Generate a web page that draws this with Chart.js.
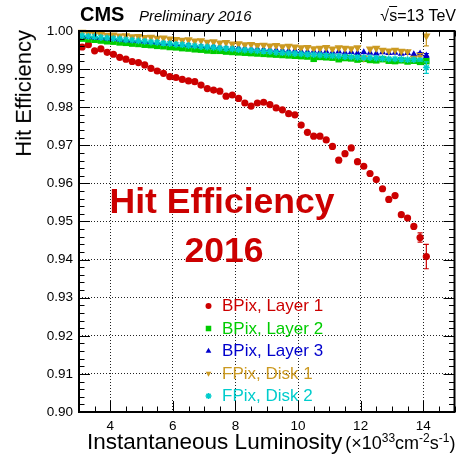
<!DOCTYPE html>
<html><head><meta charset="utf-8">
<script src="https://cdn.jsdelivr.net/npm/chart.js@4/dist/chart.umd.min.js"></script>
<style>
html,body{margin:0;padding:0;background:#fff;}
#wrap{position:relative;width:460px;height:457px;overflow:hidden;font-family:"Liberation Sans",Arial,Helvetica,sans-serif;color:#000;}
canvas{position:absolute;left:0;top:0;}
.t{position:absolute;white-space:nowrap;line-height:1;}
sup{font-size:12px;vertical-align:7px;line-height:0;}
</style></head><body>
<div id="wrap">
<canvas id="c" width="460" height="457"></canvas>
<div class="t" style="left:80px;top:4px;font-size:20px;font-weight:bold;">CMS</div>
<div class="t" style="left:139px;top:8px;font-size:15px;font-style:italic;">Preliminary 2016</div>
<div class="t" style="right:4px;top:8px;font-size:16px;">√<span style="text-decoration:overline">s</span>=13 TeV</div>
<div class="t" style="left:72px;width:300px;text-align:center;top:183.5px;font-size:35.5px;font-weight:bold;color:#cc0000;">Hit Efficiency</div>
<div class="t" style="left:74px;width:300px;text-align:center;top:233px;font-size:35.5px;font-weight:bold;color:#cc0000;">2016</div>
<div class="t" style="left:0;top:0;width:200px;text-align:right;font-size:22px;line-height:22px;transform-origin:0 0;transform:translate(12.9px,230px) rotate(-90deg);">Hit Efficiency</div>
<div class="t" style="left:87px;top:431px;font-size:22.5px;">Instantaneous Luminosity<span style="font-size:18px;margin-left:3px;">(×10<sup>33</sup>cm<sup>-2</sup>s<sup>-1</sup>)</span></div>
<div id="leg"></div>
</div>
<script>
const lumi = [3.1,3.3,3.5,3.7,3.9,4.1,4.3,4.5,4.7,4.9,
  5.1,5.3,5.5,5.7,5.9,6.1,6.3,6.5,6.7,6.9,
  7.1,7.3,7.5,7.7,7.9,8.1,8.3,8.5,8.7,8.9,
  9.1,9.3,9.5,9.7,9.9,10.1,10.3,10.5,10.7,10.9,
  11.1,11.3,11.5,11.7,11.9,12.1,12.3,12.5,12.7,12.9,
  13.1,13.3,13.5,13.7,13.9,14.1];

const bpixLayer1 = [0.9958,0.9964,0.9948,0.9953,0.9944,0.9939,0.9931,0.9926,0.9920,0.9917,
  0.9911,0.9902,0.9895,0.9889,0.9880,0.9878,0.9873,0.9869,0.9867,0.9858,
  0.9849,0.9845,0.9842,0.9829,0.9832,0.9823,0.9811,0.9803,0.9811,0.9813,
  0.9807,0.9798,0.9793,0.9783,0.9780,0.9753,0.9734,0.9724,0.9724,0.9714,
  0.9697,0.9661,0.9678,0.9693,0.9657,0.9645,0.9626,0.9610,0.9586,0.9558,
  0.9568,0.9518,0.9509,0.9487,0.9458,0.9408];

const bpixLayer2 = [0.9980,0.9978,0.9977,0.9975,0.9973,0.9972,0.9970,0.9969,0.9967,0.9966,
  0.9964,0.9963,0.9961,0.9960,0.9958,0.9957,0.9955,0.9954,0.9952,0.9951,
  0.9949,0.9948,0.9948,0.9946,0.9945,0.9944,0.9943,0.9942,0.9941,0.9940,
  0.9939,0.9938,0.9937,0.9936,0.9935,0.9934,0.9933,0.9927,0.9932,0.9931,
  0.9930,0.9926,0.9929,0.9928,0.9925,0.9927,0.9924,0.9923,0.9926,0.9922,
  0.9921,0.9923,0.9920,0.9922,0.9919,0.9921];

const bpixLayer3 = [0.9986,0.9984,0.9983,0.9982,0.9980,0.9979,0.9978,0.9976,0.9975,0.9974,
  0.9972,0.9971,0.9970,0.9968,0.9967,0.9966,0.9965,0.9963,0.9962,0.9961,
  0.9960,0.9959,0.9958,0.9957,0.9957,0.9956,0.9955,0.9953,0.9954,0.9952,
  0.9951,0.9950,0.9950,0.9948,0.9949,0.9947,0.9946,0.9947,0.9945,0.9946,
  0.9944,0.9946,0.9943,0.9945,0.9942,0.9944,0.9943,0.9941,0.9944,0.9942,
  0.9943,0.9940,0.9942,0.9939,0.9941,0.9936];

const fpixDisk1 = [0.9997,0.9994,0.9992,0.9991,0.9989,0.9990,0.9987,0.9988,0.9985,0.9986,
  0.9983,0.9984,0.9981,0.9982,0.9979,0.9978,0.9976,0.9977,0.9974,0.9975,
  0.9971,0.9972,0.9969,0.9970,0.9966,0.9967,0.9964,0.9965,0.9962,0.9963,
  0.9961,0.9962,0.9959,0.9960,0.9958,0.9956,0.9957,0.9954,0.9955,0.9957,
  0.9953,0.9956,0.9955,0.9954,0.9956,0.9929,0.9953,0.9955,0.9950,0.9948,
  0.9950,0.9947,0.9946,0.9929,0.9937,0.9987];

const fpixDisk2 = [0.9988,0.9986,0.9985,0.9983,0.9982,0.9980,0.9979,0.9977,0.9976,0.9974,
  0.9973,0.9971,0.9970,0.9968,0.9967,0.9965,0.9964,0.9962,0.9961,0.9959,
  0.9958,0.9957,0.9955,0.9954,0.9953,0.9951,0.9950,0.9949,0.9948,0.9947,
  0.9946,0.9944,0.9943,0.9942,0.9941,0.9940,0.9939,0.9938,0.9937,0.9936,
  0.9935,0.9934,0.9933,0.9932,0.9931,0.9930,0.9930,0.9929,0.9928,0.9927,
  0.9927,0.9926,0.9925,0.9925,0.9924,0.9904];

// visible error bars (luminosity bin, half-width)
const errLumi = [13.9, 14.1];
const bpixLayer1Err = [0.0012, 0.0032];
const bpixLayer2Err = [0.0002, 0.0004];
const bpixLayer3Err = [0.0002, 0.0005];
const fpixDisk1Err = [0.0004, 0.0026];
const fpixDisk2Err = [0.0003, 0.0015];

const xTickValues = [4, 6, 8, 10, 12, 14];
const yTickValues = [0.90,0.91,0.92,0.93,0.94,0.95,0.96,0.97,0.98,0.99,1.00];
const seriesNames = ['BPix, Layer 1','BPix, Layer 2','BPix, Layer 3','FPix, Disk 1','FPix, Disk 2'];
const seriesColors = ['#cc0000','#00cc00','#0000cc','#cc9a22','#00cccc'];

const FONT = '"Liberation Sans", Arial, Helvetica, sans-serif';

const seriesList = [
  {data:bpixLayer1, err:bpixLayer1Err, style:'circle',   radius:3.6, rot:0,   bw:0,   lr:3.0},
  {data:bpixLayer2, err:bpixLayer2Err, style:'rect',     radius:4.6, rot:0,   bw:0,   lr:3.9},
  {data:bpixLayer3, err:bpixLayer3Err, style:'triangle', radius:4.0, rot:0,   bw:0,   lr:3.3},
  {data:fpixDisk1,  err:fpixDisk1Err,  style:'triangle', radius:4.8, rot:180, bw:0,   lr:3.3},
  {data:fpixDisk2,  err:fpixDisk2Err,  style:'star',     radius:3.4, rot:0,   bw:1.5, lr:3.0}
].map((s,i)=>Object.assign(s,{label:seriesNames[i], color:seriesColors[i]}));

const drawOrder = [4,3,2,1,0];

const datasets = seriesList.map((s,i)=>({
  label: s.label,
  data: lumi.map((x,k)=>({x:x, y:s.data[k]})),
  showLine:false,
  pointStyle:s.style,
  pointRadius:s.radius,
  pointRotation:s.rot,
  pointBorderWidth:s.bw,
  backgroundColor:s.color,
  borderColor:s.color,
  pointBackgroundColor:s.color,
  pointBorderColor:s.color,
  order: drawOrder[i],
  clip:false
}));

// legend text (real text)
const legBaselines = [311.5, 334, 356.5, 379, 401.5];
const legMarkerY = [306, 328.5, 351, 373.5, 396];
const legEl = document.getElementById('leg');
seriesList.forEach((s,i)=>{
  const d = document.createElement('div');
  d.className='t';
  d.style.left='222px';
  d.style.top=(legBaselines[i]-14.4)+'px';
  d.style.fontSize='17px';
  d.style.color=s.color;
  d.textContent=s.label;
  legEl.appendChild(d);
});

const errorBars = {
  id:'errorBars',
  afterDatasetsDraw(chart){
    const {ctx, chartArea:a, scales:{x,y}} = chart;
    ctx.save();
    ctx.beginPath(); ctx.rect(a.left,a.top,a.right-a.left,a.bottom-a.top); ctx.clip();
    seriesList.forEach(s=>{
      ctx.strokeStyle=s.color; ctx.lineWidth=1.2;
      errLumi.forEach((lx,i)=>{
        const k = lumi.indexOf(lx);
        const v = s.data[k], e = s.err[i];
        const px = x.getPixelForValue(lx);
        const p1 = y.getPixelForValue(v+e), p2 = y.getPixelForValue(v-e);
        ctx.beginPath();
        ctx.moveTo(px,p1); ctx.lineTo(px,p2);
        ctx.moveTo(px-2.5,p1); ctx.lineTo(px+2.5,p1);
        ctx.moveTo(px-2.5,p2); ctx.lineTo(px+2.5,p2);
        ctx.stroke();
      });
    });
    ctx.restore();
  }
};

const frameTicks = {
  id:'frameTicks',
  afterDraw(chart){
    const {ctx, chartArea:a, scales:{x,y}} = chart;
    ctx.save();
    ctx.strokeStyle='#000'; ctx.lineWidth=1;
    ctx.beginPath();
    for (let k=0;k<=24;k++){
      const v = 3 + k*0.5;
      const px = Math.round(x.getPixelForValue(v))+0.5;
      const major = xTickValues.some(t=>Math.abs(t-v)<1e-6);
      const L = major?11:5.5;
      ctx.moveTo(px,a.bottom); ctx.lineTo(px,a.bottom-L);
      ctx.moveTo(px,a.top); ctx.lineTo(px,a.top+L);
    }
    for (let k=0;k<=50;k++){
      const v = 0.90 + k*0.002;
      const py = Math.round(y.getPixelForValue(v))+0.5;
      const L = (k%5===0)?11:5.5;
      ctx.moveTo(a.left,py); ctx.lineTo(a.left+L,py);
      ctx.moveTo(a.right,py); ctx.lineTo(a.right-L,py);
    }
    ctx.stroke();
    ctx.lineWidth=2;
    ctx.strokeRect(a.left,a.top,a.right-a.left,a.bottom-a.top);
    // legend markers
    const H = (window.Chart && Chart.helpers) ? Chart.helpers : null;
    seriesList.forEach((s,i)=>{
      ctx.fillStyle=s.color; ctx.strokeStyle=s.color; ctx.lineWidth=s.bw||1;
      const mx = 208.5, my = legMarkerY[i];
      if (H && H.drawPoint){
        H.drawPoint(ctx,{pointStyle:s.style, radius:s.lr, rotation:s.rot, borderWidth:s.bw},mx,my);
      } else {
        ctx.beginPath(); ctx.arc(mx,my,s.lr,0,Math.PI*2); ctx.fill();
      }
    });
    ctx.restore();
  }
};

new Chart(document.getElementById('c').getContext('2d'), {
  type:'scatter',
  data:{datasets},
  options:{
    responsive:false,
    animation:false,
    devicePixelRatio:1,
    layout:{padding:{left:0,right:1,top:31,bottom:0}},
    plugins:{legend:{display:false}, tooltip:{enabled:false}},
    scales:{
      x:{
        type:'linear', min:3, max:15,
        afterBuildTicks:(s)=>{ s.ticks = xTickValues.map(v=>({value:v})); },
        afterFit:(s)=>{ s.height = 45; },
        grid:{color:'#222', lineWidth:1, drawTicks:false},
        border:{display:false, dash:[1,2]},
        ticks:{padding:6, color:'#000', maxRotation:0, autoSkip:false, font:{family:FONT, size:13.5}}
      },
      y:{
        type:'linear', min:0.90, max:1.00,
        afterBuildTicks:(s)=>{ s.ticks = yTickValues.map(v=>({value:v})); },
        afterFit:(s)=>{ s.width = 79; },
        grid:{color:'#222', lineWidth:1, drawTicks:false},
        border:{display:false, dash:[1,2]},
        ticks:{padding:6, color:'#000', autoSkip:false, font:{family:FONT, size:13.5}, callback:(v)=>Number(v).toFixed(2)}
      }
    }
  },
  plugins:[errorBars, frameTicks]
});
</script>
</body></html>
